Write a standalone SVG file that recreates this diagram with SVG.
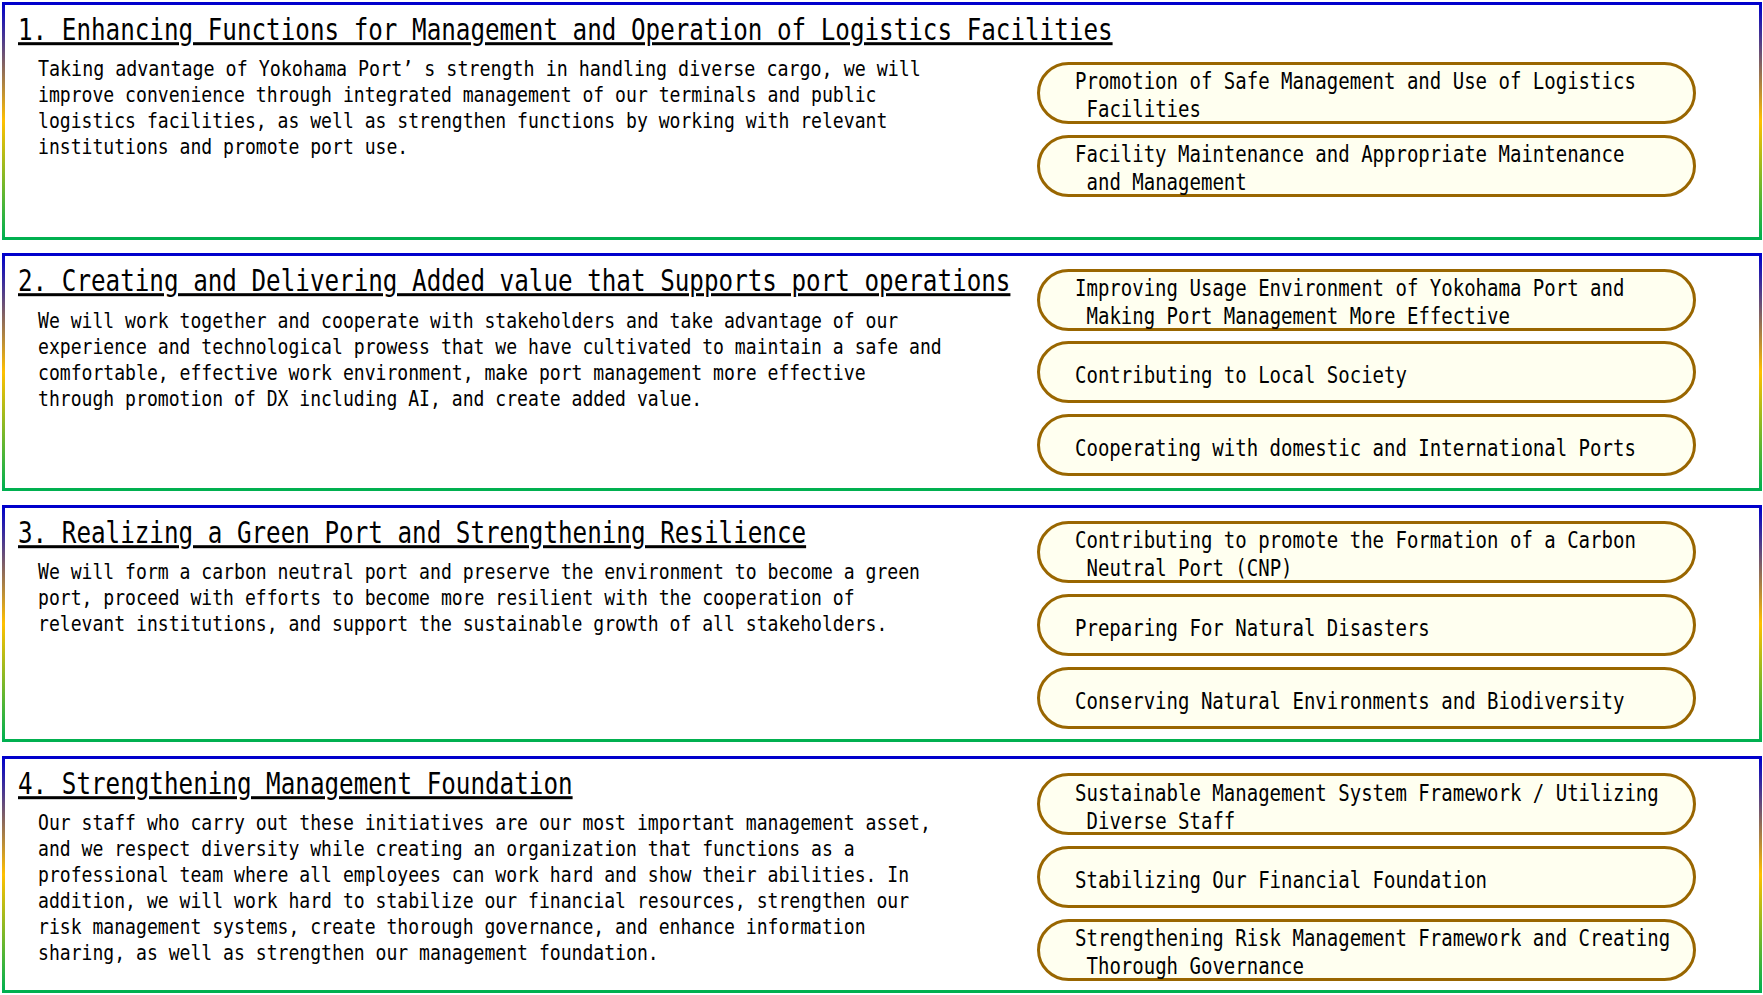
<svg xmlns="http://www.w3.org/2000/svg" width="1763" height="995" viewBox="0 0 1763 995">
<defs>
<linearGradient id="frameGrad" x1="0" y1="0" x2="0" y2="1">
<stop offset="0" stop-color="#0000CC"/>
<stop offset="0.5" stop-color="#FFC000"/>
<stop offset="1" stop-color="#00B050"/>
</linearGradient>
</defs>
<style>
.frame{fill:#FFFFFF;stroke:url(#frameGrad);stroke-width:3}
.pill{fill:#FFFFF0;stroke:#996600;stroke-width:3}
text{font-family:"DejaVu Sans Mono","Liberation Mono",monospace;fill:#000}
.title{font-size:30px;text-decoration:underline;text-decoration-skip-ink:none}
.body{font-size:22px}
.ptxt{font-size:23px}
</style>
<rect x="0" y="0" width="1763" height="995" fill="#FFFFFF"/>

<g id="panel1">
<rect class="frame" x="3.5" y="3.5" width="1757" height="235"/>
<text class="title" transform="translate(18 40) scale(0.8084 1)">1. Enhancing Functions for Management and Operation of Logistics Facilities</text>
<text class="body" transform="translate(38 76) scale(0.823 1)" textLength="1072.8" lengthAdjust="spacingAndGlyphs">Taking advantage of Yokohama Port’ s strength in handling diverse cargo, we will</text>
<text class="body" transform="translate(38 102) scale(0.823 1)">improve convenience through integrated management of our terminals and public</text>
<text class="body" transform="translate(38 128) scale(0.823 1)">logistics facilities, as well as strengthen functions by working with relevant</text>
<text class="body" transform="translate(38 154) scale(0.823 1)">institutions and promote port use.</text>
</g>
<g id="pill1a">
<rect class="pill" x="1038.5" y="63.5" width="656" height="59" rx="30" ry="29.5"/>
<text class="ptxt" transform="translate(1075 89) scale(0.827 1)">Promotion of Safe Management and Use of Logistics</text>
<text class="ptxt" transform="translate(1086.5 117) scale(0.827 1)">Facilities</text>
</g>
<g id="pill1b">
<rect class="pill" x="1038.5" y="136.5" width="656" height="59" rx="30" ry="29.5"/>
<text class="ptxt" transform="translate(1075 162) scale(0.827 1)">Facility Maintenance and Appropriate Maintenance</text>
<text class="ptxt" transform="translate(1086.5 190) scale(0.827 1)">and Management</text>
</g>

<g id="panel2">
<rect class="frame" x="3.5" y="254.5" width="1757" height="235"/>
<text class="title" transform="translate(18 291) scale(0.8084 1)">2. Creating and Delivering Added value that Supports port operations</text>
<text class="body" transform="translate(38 328) scale(0.823 1)">We will work together and cooperate with stakeholders and take advantage of our</text>
<text class="body" transform="translate(38 354) scale(0.823 1)">experience and technological prowess that we have cultivated to maintain a safe and</text>
<text class="body" transform="translate(38 380) scale(0.823 1)">comfortable, effective work environment, make port management more effective</text>
<text class="body" transform="translate(38 406) scale(0.823 1)">through promotion of DX including AI, and create added value.</text>
</g>
<g id="pill2a">
<rect class="pill" x="1038.5" y="270.5" width="656" height="59" rx="30" ry="29.5"/>
<text class="ptxt" transform="translate(1075 296) scale(0.827 1)">Improving Usage Environment of Yokohama Port and</text>
<text class="ptxt" transform="translate(1086.5 324) scale(0.827 1)">Making Port Management More Effective</text>
</g>
<g id="pill2b">
<rect class="pill" x="1038.5" y="342.5" width="656" height="59" rx="30" ry="29.5"/>
<text class="ptxt" transform="translate(1075 383) scale(0.827 1)">Contributing to Local Society</text>
</g>
<g id="pill2c">
<rect class="pill" x="1038.5" y="415.5" width="656" height="59" rx="30" ry="29.5"/>
<text class="ptxt" transform="translate(1075 456) scale(0.827 1)">Cooperating with domestic and International Ports</text>
</g>

<g id="panel3">
<rect class="frame" x="3.5" y="506.5" width="1757" height="234"/>
<text class="title" transform="translate(18 543) scale(0.8084 1)">3. Realizing a Green Port and Strengthening Resilience</text>
<text class="body" transform="translate(38 579) scale(0.823 1)">We will form a carbon neutral port and preserve the environment to become a green</text>
<text class="body" transform="translate(38 605) scale(0.823 1)">port, proceed with efforts to become more resilient with the cooperation of</text>
<text class="body" transform="translate(38 631) scale(0.823 1)">relevant institutions, and support the sustainable growth of all stakeholders.</text>
</g>
<g id="pill3a">
<rect class="pill" x="1038.5" y="522.5" width="656" height="59" rx="30" ry="29.5"/>
<text class="ptxt" transform="translate(1075 548) scale(0.827 1)">Contributing to promote the Formation of a Carbon</text>
<text class="ptxt" transform="translate(1086.5 576) scale(0.827 1)">Neutral Port (CNP)</text>
</g>
<g id="pill3b">
<rect class="pill" x="1038.5" y="595.5" width="656" height="59" rx="30" ry="29.5"/>
<text class="ptxt" transform="translate(1075 636) scale(0.827 1)">Preparing For Natural Disasters</text>
</g>
<g id="pill3c">
<rect class="pill" x="1038.5" y="668.5" width="656" height="59" rx="30" ry="29.5"/>
<text class="ptxt" transform="translate(1075 709) scale(0.827 1)">Conserving Natural Environments and Biodiversity</text>
</g>

<g id="panel4">
<rect class="frame" x="3.5" y="757.5" width="1757" height="234"/>
<text class="title" transform="translate(18 794) scale(0.8084 1)">4. Strengthening Management Foundation</text>
<text class="body" transform="translate(38 830) scale(0.823 1)">Our staff who carry out these initiatives are our most important management asset,</text>
<text class="body" transform="translate(38 856) scale(0.823 1)">and we respect diversity while creating an organization that functions as a</text>
<text class="body" transform="translate(38 882) scale(0.823 1)">professional team where all employees can work hard and show their abilities. In</text>
<text class="body" transform="translate(38 908) scale(0.823 1)">addition, we will work hard to stabilize our financial resources, strengthen our</text>
<text class="body" transform="translate(38 934) scale(0.823 1)">risk management systems, create thorough governance, and enhance information</text>
<text class="body" transform="translate(38 960) scale(0.823 1)">sharing, as well as strengthen our management foundation.</text>
</g>
<g id="pill4a">
<rect class="pill" x="1038.5" y="774.5" width="656" height="59" rx="30" ry="29.5"/>
<text class="ptxt" transform="translate(1075 801) scale(0.827 1)">Sustainable Management System Framework / Utilizing</text>
<text class="ptxt" transform="translate(1086.5 829) scale(0.827 1)">Diverse Staff</text>
</g>
<g id="pill4b">
<rect class="pill" x="1038.5" y="847.5" width="656" height="59" rx="30" ry="29.5"/>
<text class="ptxt" transform="translate(1075 888) scale(0.827 1)">Stabilizing Our Financial Foundation</text>
</g>
<g id="pill4c">
<rect class="pill" x="1038.5" y="920.5" width="656" height="59" rx="30" ry="29.5"/>
<text class="ptxt" transform="translate(1075 946) scale(0.827 1)">Strengthening Risk Management Framework and Creating</text>
<text class="ptxt" transform="translate(1086.5 974) scale(0.827 1)">Thorough Governance</text>
</g>
</svg>
